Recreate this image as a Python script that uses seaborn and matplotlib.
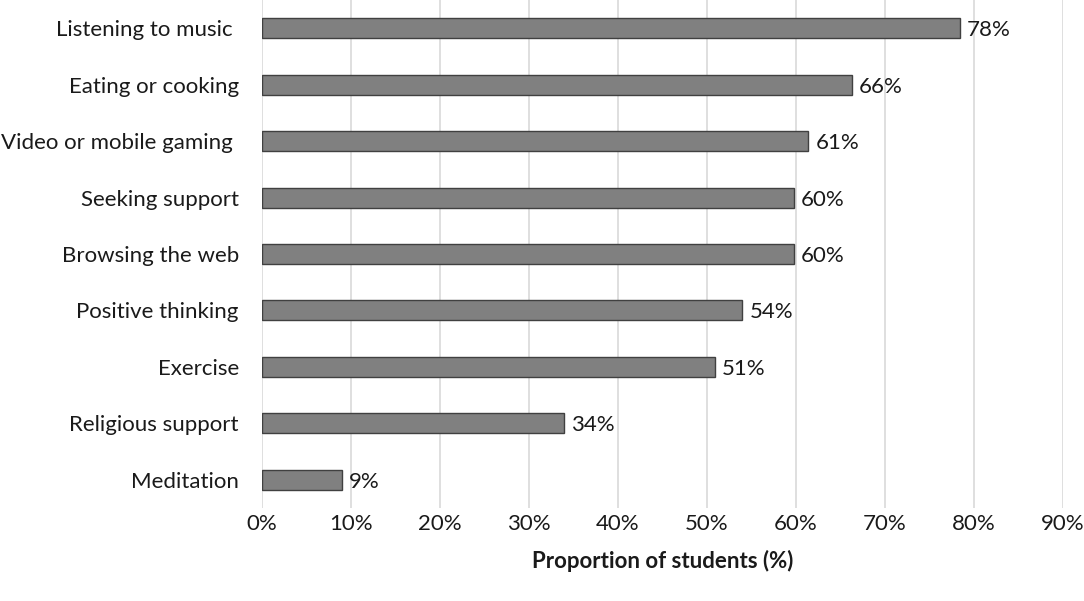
import seaborn as sns
import pandas as pd
import matplotlib.pyplot as plt
from matplotlib.ticker import FuncFormatter

# data
activities = ['Listening to music ', 'Eating or cooking', 'Video or mobile gaming ',
              'Seeking support', 'Browsing the web', 'Positive thinking',
              'Exercise', 'Religious support', 'Meditation']
proportions = [78.4, 66.3, 61.4, 59.8, 59.8, 54.0, 50.9, 34.0, 9.0]
x_ticks = [0, 10, 20, 30, 40, 50, 60, 70, 80, 90]

df = pd.DataFrame({'label': activities, 'data': proportions})

sns.set_theme(style='white')
plt.rcParams['font.family'] = ['Lato', 'DejaVu Sans']

fig = plt.figure(figsize=(10.84, 6.01), dpi=100)
ax = fig.add_axes([0.2414, 0.1547, 0.739, 0.8453])

sns.barplot(x='data', y='label', data=df, color='#808080', edgecolor='#404040',
            linewidth=1.0, width=0.355, saturation=1, ax=ax, zorder=3)

ax.set_xlim(0, 90)
ax.set_ylim(8.5, -0.5)
ax.set_xticks(x_ticks)
ax.xaxis.set_major_formatter(FuncFormatter(lambda v, p: f'{v:.0f}%'))
ax.grid(axis='x', color='#d9d9d9', linewidth=1.2, zorder=0)
ax.grid(axis='y', visible=False)
for s in ax.spines.values():
    s.set_visible(False)

fs = 16
ax.tick_params(axis='y', length=0, pad=16.5, labelsize=fs, labelcolor='#1a1a1a')
ax.tick_params(axis='x', length=0, pad=4, labelsize=fs, labelcolor='#1a1a1a')

ax.set_ylabel('')
ax.set_xlabel('Proportion of students (%)', fontsize=fs, fontweight='bold',
              color='#1a1a1a', labelpad=12)

for i, v in enumerate(proportions):
    ax.text(v + 0.8, i, f'{v:.0f}%', va='center_baseline', ha='left', fontsize=fs,
            color='#1a1a1a')

fig.savefig('out.png', dpi=100)
